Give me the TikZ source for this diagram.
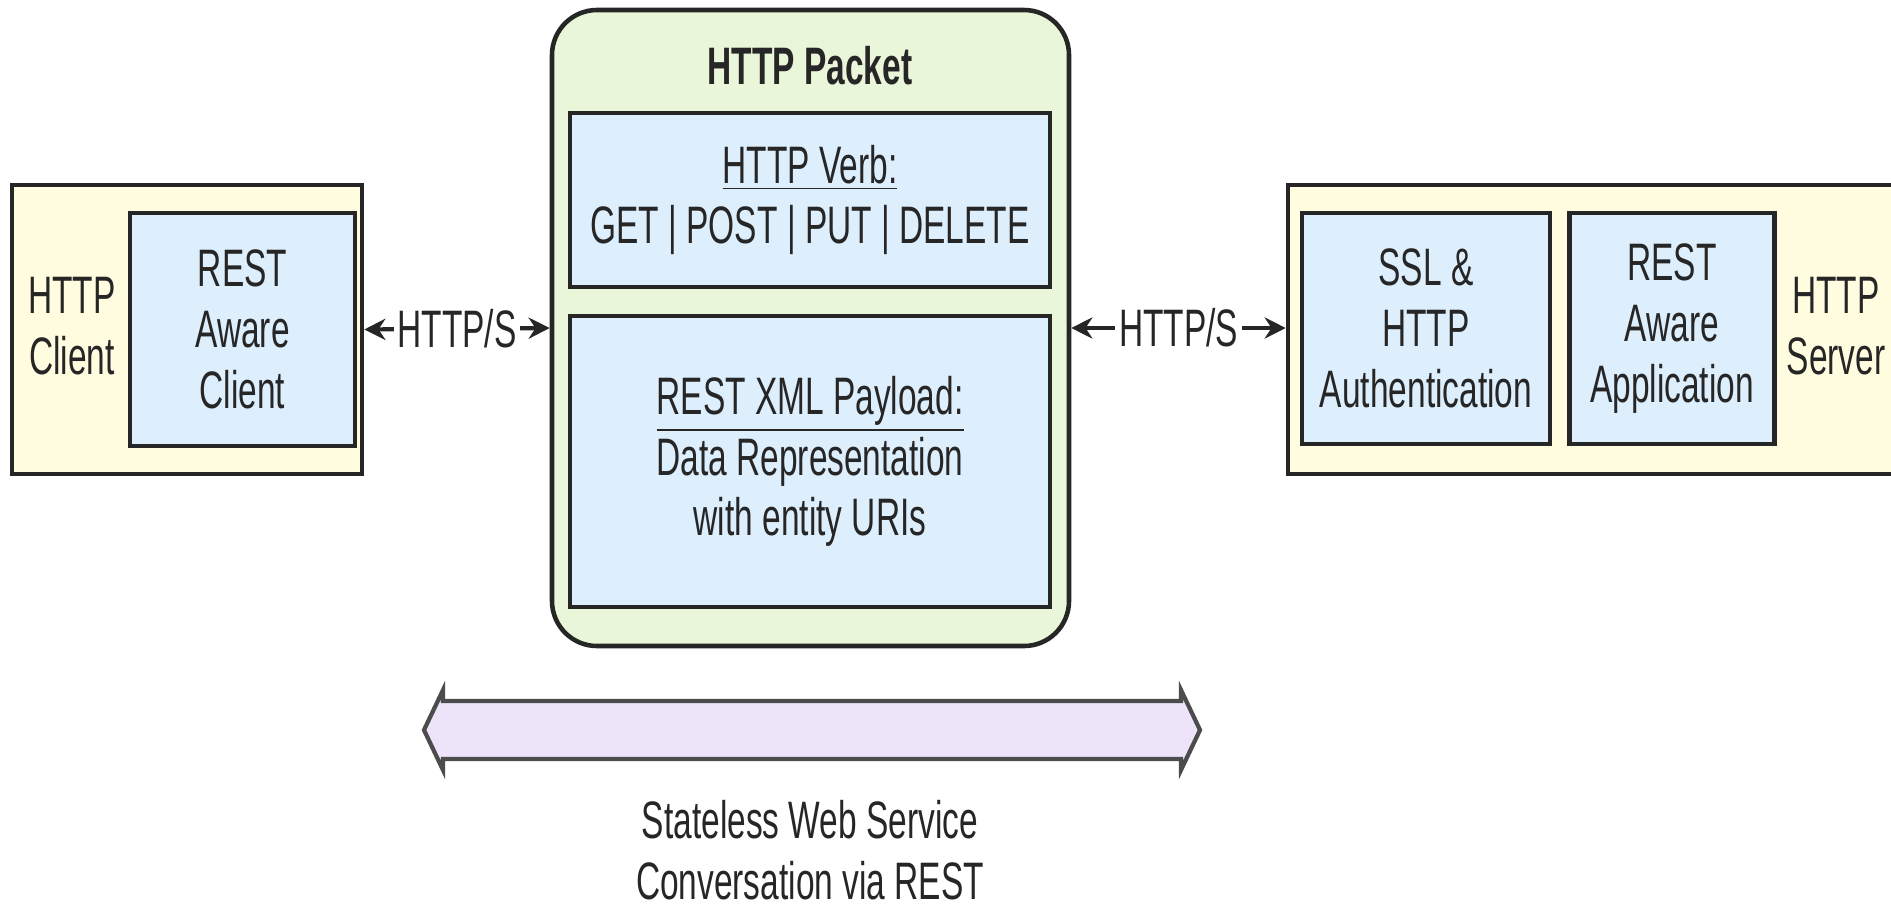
\documentclass[tikz,border=0pt]{standalone}
\usepackage{fontspec}
\setmainfont{Liberation Sans}[FakeStretch=0.635]
\usepackage{tikz}
\usetikzlibrary{arrows.meta,positioning}
\definecolor{hostfill}{RGB}{255,252,224}
\definecolor{partfill}{RGB}{221,238,252}
\definecolor{packetfill}{RGB}{234,246,218}
\definecolor{convfill}{RGB}{238,228,250}

\tikzset{
  txt/.style={font=\fontsize{15}{17.3}\selectfont, text=black!85, align=center},
  hostbox/.style={draw=black!85, line width=1.3pt, fill=hostfill, inner sep=0pt},
  partbox/.style={txt, draw=black!85, line width=1.3pt, fill=partfill, inner sep=0pt},
  packetbox/.style={draw=black!85, line width=1.3pt, fill=packetfill, rounded corners=0.45cm, inner sep=0pt},
  link/.style={{Stealth[length=6pt,width=6pt]}-{Stealth[length=6pt,width=6pt]}, line width=1.2pt, black!85},
  linklabel/.style={txt, fill=white, inner sep=1pt},
}

\begin{document}
\begin{tikzpicture}
\useasboundingbox (0,0) rectangle (18.91,-9.06);
\clip (0,0) rectangle (18.91,-9.06);

% client side
\node[hostbox, minimum width=3.50cm, minimum height=2.89cm] (client) at (1.87,-3.295) {};
\node[partbox, minimum width=2.25cm, minimum height=2.33cm] (restclient) at (2.425,-3.295) {REST\\Aware\\Client};
\node[txt] (clientlabel) at (0.72,-3.26) {HTTP\\Client};

% packet
\node[packetbox, minimum width=5.17cm, minimum height=6.36cm] (packet) at (8.105,-3.28) {};
\node[txt, font=\fontsize{15}{17.3}\selectfont\bfseries] (packettitle) at (8.10,-0.66) {HTTP Packet};
\node[partbox, minimum width=4.80cm, minimum height=1.74cm] (verb) at (8.10,-2.00) {\underline{HTTP Verb:}\\GET | POST | PUT | DELETE};
\node[partbox, minimum width=4.80cm, minimum height=2.91cm] (payload) at (8.10,-4.615) {\underline{REST XML Payload:}\\Data Representation\\with entity URIs};

% server side
\node[hostbox, minimum width=6.12cm, minimum height=2.89cm] (server) at (15.94,-3.295) {};
\node[partbox, minimum width=2.48cm, minimum height=2.31cm] (ssl) at (14.26,-3.285) {SSL \&\\HTTP\\Authentication};
\node[partbox, minimum width=2.05cm, minimum height=2.31cm, right=0.15cm of ssl] (app) {REST\\Aware\\Application};
\node[txt] (serverlabel) at (18.36,-3.26) {HTTP\\Server};

% links
\draw[link] (client.east) -- (packet.west) node[midway, linklabel] {HTTP/S};
\draw[link] (packet.east) -- (packet.east -| server.west) node[midway, linklabel] {HTTP/S};

% conversation arrow
\filldraw[fill=convfill, draw=black!70, line width=1.2pt, line join=miter]
  (4.24,-7.30) -- (4.43,-6.90) -- (4.43,-7.01) -- (11.81,-7.01) -- (11.81,-6.90)
  -- (12.00,-7.30) -- (11.81,-7.70) -- (11.81,-7.59) -- (4.43,-7.59) -- (4.43,-7.70) -- cycle;
\node[txt] (convlabel) at (8.10,-8.50) {Stateless Web Service\\Conversation via REST};
\end{tikzpicture}
\end{document}
